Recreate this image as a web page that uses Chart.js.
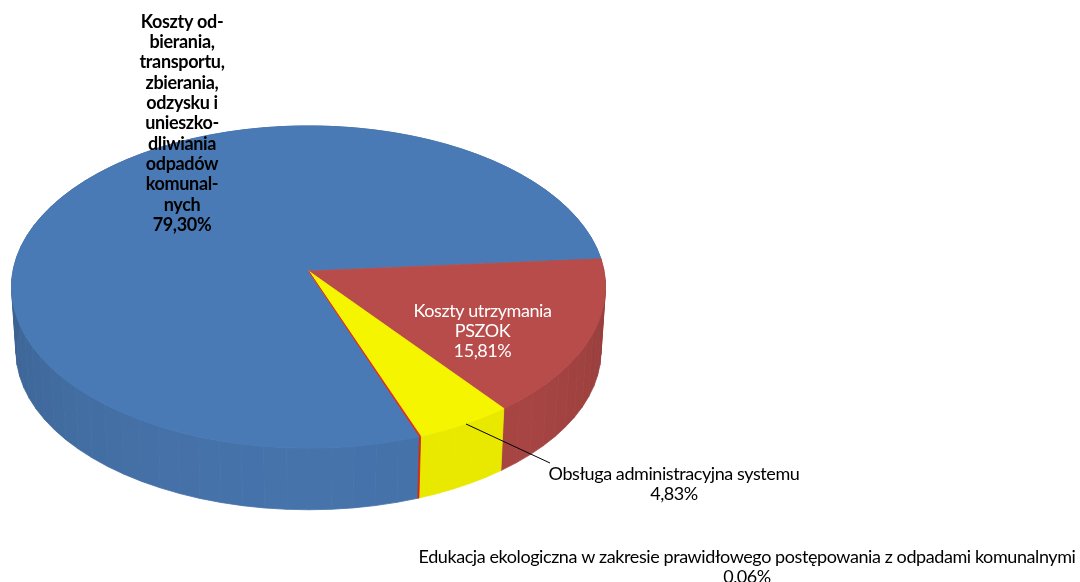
<!DOCTYPE html>
<html lang="pl">
<head>
<meta charset="utf-8">
<title>Koszty systemu</title>
<script src="https://cdn.jsdelivr.net/npm/chart.js@4"></script>
<style>
  html, body { margin: 0; padding: 0; background: #fff; overflow: hidden; }
  #chart { display: block; }
</style>
</head>
<body>
<canvas id="chart" width="1080" height="582"></canvas>
<script>
// Chart values
const categories = [
  "Koszty odbierania, transportu, zbierania, odzysku i unieszkodliwiania odpadów komunalnych",
  "Koszty utrzymania PSZOK",
  "Obsługa administracyjna systemu",
  "Edukacja ekologiczna w zakresie prawidłowego postępowania z odpadami komunalnymi",
];
const values = [79.3, 15.81, 4.83, 0.06];
const valueLabels = ["79,30%", "15,81%", "4,83%", "0,06%"];
const sliceColors = ["#4a7ab5", "#b84c4a", "#f5f500", "#e0281c"];

// Label text, wrapped the way the picture wraps it
const wrappedLabels = [
  ["Koszty od-", "bierania,", "transportu,", "zbierania,", "odzysku i", "unieszko-", "dliwiania", "odpadów", "komunal-", "nych"],
  ["Koszty utrzymania", "PSZOK"],
  ["Obsługa administracyjna systemu"],
  ["Edukacja ekologiczna w zakresie prawidłowego postępowania z odpadami komunalnymi"],
];

// Perspective of the tilted disc
const disc = { x: 308.5, y: 271, a: 295.5, b: 159.5, p: 0.0995 };
const depth = { y: 335.3, scale: 0.985 };

function project(angle, bottom) {
  const u = Math.cos(angle);
  const v = Math.sin(angle);
  const w = 1 - disc.p * v;
  const s = bottom ? depth.scale : 1;
  const y0 = bottom ? depth.y : disc.y;
  return { x: disc.x + (s * disc.a * u) / w, y: y0 + (s * disc.b * v) / w };
}

// Darken a colour for the rim, lighter towards the viewer
function shade(hex, angle) {
  const f = 0.8 + 0.14 * Math.max(0, Math.sin(angle));
  const n = parseInt(hex.slice(1), 16);
  const r = Math.round(((n >> 16) & 255) * f);
  const g = Math.round(((n >> 8) & 255) * f);
  const b = Math.round((n & 255) * f);
  return `rgb(${r},${g},${b})`;
}

function shadeSoft(hex, angle) {
  // yellow keeps most of its brightness on the rim
  return hex === "#f5f500" ? "#e9e900" : shade(hex, angle);
}

const discPlugin = {
  id: "disc",
  beforeDatasetsDraw(chart) {
    const ctx = chart.ctx;
    const arcs = chart.getDatasetMeta(0).data;
    const step = (4 * Math.PI) / 180;

    // Rim first, the top face covers its far half
    arcs.forEach((arc, i) => {
      const count = Math.max(1, Math.ceil((arc.endAngle - arc.startAngle) / step));
      const da = (arc.endAngle - arc.startAngle) / count;
      for (let k = 0; k < count; k++) {
        const a0 = arc.startAngle + k * da;
        const a1 = a0 + da;
        const color = shadeSoft(sliceColors[i], a0 + da / 2);
        const p0 = project(a0, false);
        const p1 = project(a1, false);
        const p2 = project(a1, true);
        const p3 = project(a0, true);
        ctx.beginPath();
        ctx.moveTo(p0.x, p0.y);
        ctx.lineTo(p1.x, p1.y);
        ctx.lineTo(p2.x, p2.y);
        ctx.lineTo(p3.x, p3.y);
        ctx.closePath();
        ctx.fillStyle = color;
        ctx.strokeStyle = color;
        ctx.lineWidth = 0.8;
        ctx.fill();
        ctx.stroke();
      }
    });

    // Top face
    arcs.forEach((arc, i) => {
      const count = Math.max(1, Math.ceil((arc.endAngle - arc.startAngle) / 0.01));
      const da = (arc.endAngle - arc.startAngle) / count;
      ctx.beginPath();
      ctx.moveTo(disc.x, disc.y);
      for (let k = 0; k <= count; k++) {
        const p = project(arc.startAngle + k * da, false);
        ctx.lineTo(p.x, p.y);
      }
      ctx.closePath();
      ctx.fillStyle = sliceColors[i];
      ctx.strokeStyle = sliceColors[i];
      ctx.lineWidth = 0.8;
      ctx.fill();
      ctx.stroke();
    });
    return false;
  },
  afterDraw(chart) {
    const ctx = chart.ctx;
    ctx.save();

    // Leader line of the yellow slice
    ctx.beginPath();
    ctx.moveTo(466, 424);
    ctx.lineTo(550, 463);
    ctx.strokeStyle = "#000";
    ctx.lineWidth = 1;
    ctx.stroke();

    ctx.textAlign = "center";
    ctx.textBaseline = "middle";
    const spots = [
      { x: 182, y: 22, gap: 20.3, font: "bold 18px Lato", color: "#000", spacing: "-0.35px" },
      { x: 482.5, y: 311, gap: 20, font: "18px Lato", color: "#fff", spacing: "-0.42px" },
      { x: 674, y: 474, gap: 20, font: "18px Lato", color: "#000", spacing: "-0.42px" },
      { x: 747, y: 557, gap: 20, font: "18px Lato", color: "#000", spacing: "-0.42px" },
    ];
    spots.forEach((s, i) => {
      ctx.font = s.font;
      ctx.fillStyle = s.color;
      ctx.letterSpacing = s.spacing;
      const lines = wrappedLabels[i].concat(valueLabels[i]);
      lines.forEach((line, n) => ctx.fillText(line, s.x, s.y + n * s.gap));
    });
    ctx.restore();
  },
};

new Chart(document.getElementById("chart"), {
  type: "pie",
  data: {
    labels: categories,
    datasets: [{ data: values, backgroundColor: sliceColors, borderWidth: 0 }],
  },
  options: {
    responsive: false,
    animation: false,
    rotation: 160.1,
    plugins: { legend: { display: false }, tooltip: { enabled: false } },
  },
  plugins: [discPlugin],
});
</script>
</body>
</html>
